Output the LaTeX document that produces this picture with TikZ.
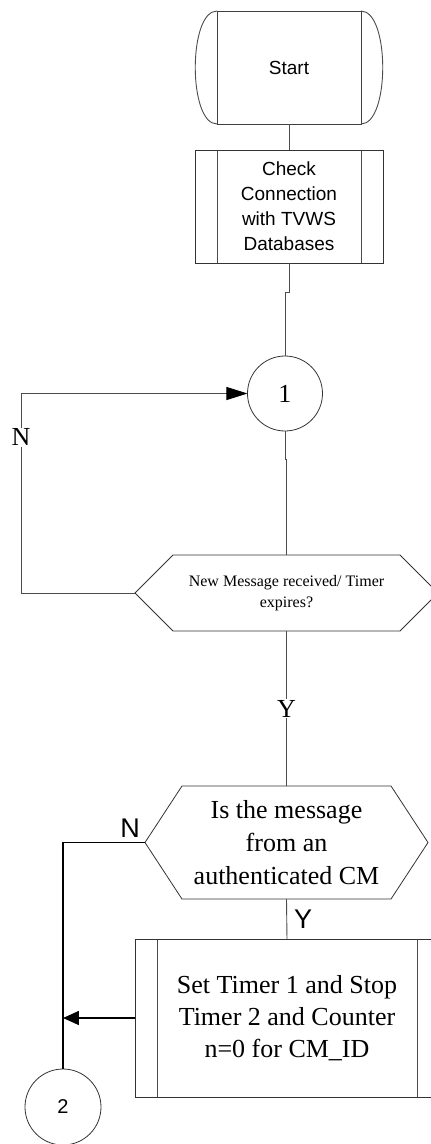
\documentclass[tikz,border=0pt]{standalone}
\usepackage{fontspec}
\setmainfont{Liberation Serif}
\setsansfont{Liberation Sans}
\usetikzlibrary{shapes.geometric, shapes.symbols, arrows.meta, positioning, calc}
\tikzset{
  flowline/.style={draw=black!70, line width=0.9pt},
  boldline/.style={draw=black, line width=1.6pt},
  terminal/.style={
    rectangle, draw=black!75, line width=0.8pt,
    minimum width=144pt, minimum height=113pt,
    font=\sffamily\fontsize{19}{25}\selectfont, align=center, outer sep=0pt
  },
  subproc/.style={
    rectangle, draw=black!80, line width=0.9pt, align=center, outer sep=0pt,
    path picture={
      \draw[black!70, line width=0.9pt]
        ([xshift=22pt]path picture bounding box.north west) -- ([xshift=22pt]path picture bounding box.south west)
        ([xshift=-22pt]path picture bounding box.north east) -- ([xshift=-22pt]path picture bounding box.south east);
    }
  },
  decision/.style={
    signal, signal to=west and east, draw=black!80, line width=0.8pt,
    align=center, inner sep=0pt, outer sep=0pt
  },
  connector/.style={
    circle, draw=black!80, line width=0.8pt, minimum size=75pt,
    inner sep=0pt, outer sep=0pt
  },
  flag/.style={font=\fontsize{26}{26}\selectfont, inner sep=1pt},
  sflag/.style={font=\sffamily\fontsize{27}{27}\selectfont, inner sep=1pt},
}

\begin{document}
\begin{tikzpicture}
    \useasboundingbox (-289pt,67.5pt) rectangle (142pt,-1076.5pt);

    %% Start and database check
    \node[terminal] (start) at (0,0) {Start};
    \node[subproc, minimum width=188pt, minimum height=113pt,
      font=\sffamily\fontsize{19}{25}\selectfont, below=26pt of start] (check)
      {Check\\Connection\\with TVWS\\Databases};

    %% Wait loop
    \node[connector, font=\fontsize{26}{30}\selectfont, below=93pt of check, xshift=-4pt] (c1) {1};
    \node[decision, minimum width=303pt, minimum height=76pt, signal pointer angle=90,
      font=\fontsize{16}{21}\selectfont, below=124pt of c1, xshift=1.5pt] (q1)
      {New Message received/ Timer\\expires?};

    %% Authentication
    \node[decision, minimum width=283pt, minimum height=113pt, signal pointer angle=113.6,
      font=\fontsize{26}{33}\selectfont, below=155pt of q1] (q2)
      {Is the message\\from an\\authenticated CM};
    \node[subproc, minimum width=304pt, minimum height=158pt,
      font=\fontsize{26}{32}\selectfont, below=40pt of q2, xshift=0.5pt] (set)
      {Set Timer 1 and Stop\\Timer 2 and Counter\\n=0 for CM\_ID};
    \node[connector, minimum size=76pt, font=\sffamily\fontsize{20}{24}\selectfont]
      (c2) at ($(set.south west)+(-72pt,-10pt)$) {2};

    %% Terminal ends
    \draw[flowline] (start.north west) .. controls +(-29pt,0) and +(-29pt,0) .. (start.south west);
    \draw[flowline] (start.north east) .. controls +(29pt,0) and +(29pt,0) .. (start.south east);

    %% Arrows
    \coordinate[left=114pt of q1.west] (nloop);
    \coordinate (join) at (set.west -| c2.north);
    \draw[flowline] (start) -- (check);
    \draw[flowline] (check.south) -- ++(0,-29pt) -| (c1.north);
    \draw[flowline] (c1.south) -- ++(0,-28pt) -| (q1.north);
    \draw[flowline, -{Triangle[length=21pt, width=13pt, black]}] (q1.west) -- (nloop)
      |- node[pos=0.39, fill=white, flag] {N} (c1.west);
    \draw[flowline] (q1.south) -- node[fill=white, flag] {Y} (q2.north);
    \draw[flowline] (q2.south) -- node[right=6pt, sflag] {Y} (set.north);
    \draw[boldline] (q2.west) -| (c2.north);
    \node[sflag, anchor=south east, xshift=-4pt, yshift=4pt] (nlabel) at (q2.west) {N};
    \draw[boldline, -{Triangle[length=16pt, width=14pt]}] (set.west) -- (join);

  \end{tikzpicture}
\end{document}
